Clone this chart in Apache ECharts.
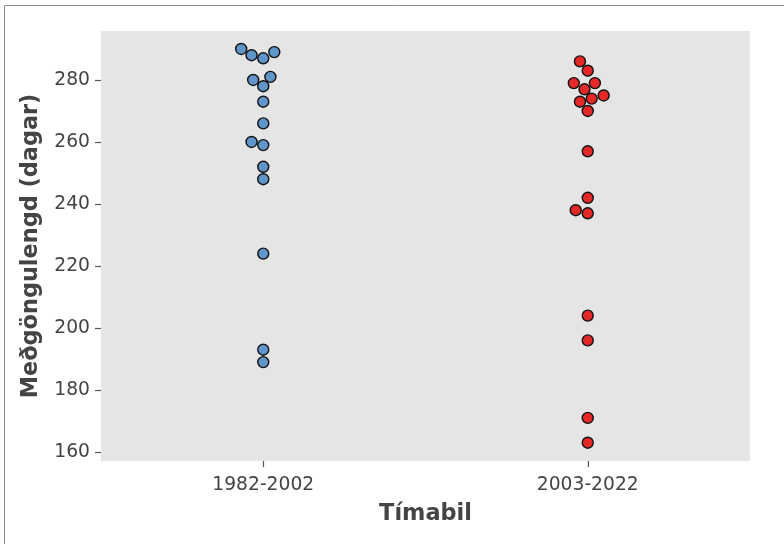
<!DOCTYPE html>
<html>
<head>
<meta charset="utf-8">
<script src="https://cdn.jsdelivr.net/npm/echarts@6/dist/echarts.min.js"></script>
<style>
  html, body { margin: 0; padding: 0; background: #ffffff; }
  #chart { width: 784px; height: 544px; }
</style>
</head>
<body>
<div id="chart"></div>
<script>
// Categories (periods)
const categories = ['1982-2002', '2003-2022'];

// Gestation length (days) per period
const values1982 = [290, 288, 287, 289, 280, 281, 278, 273, 266, 260, 259, 252, 248, 224, 193, 189];
// swarm offsets (in category units)
const offsets1982 = [-0.068, -0.036, 0, 0.034, -0.031, 0.022, 0, 0, 0, -0.036, 0, 0, 0, 0, 0, 0];

const values2003 = [286, 283, 279, 279, 277, 275, 273, 274, 270, 257, 242, 238, 237, 204, 196, 171, 163];
const offsets2003 = [-0.024, 0, -0.043, 0.022, -0.010, 0.049, -0.024, 0.012, 0, 0, 0, -0.037, 0, 0, 0, 0, 0];

// Y tick labels
const yTicks = [160, 180, 200, 220, 240, 260, 280];

const textColor = '#444444';
const font = 'DejaVu Sans';

function buildPoints(catIndex, vals, offs) {
  return vals.map((v, i) => [catIndex + offs[i], v]);
}

const chart = echarts.init(document.getElementById('chart'), null, { renderer: 'canvas' });

chart.setOption({
  animation: false,
  backgroundColor: '#ffffff',
  textStyle: { fontFamily: font },
  graphic: [{
    type: 'rect',
    shape: { x: 4.5, y: 5.5, width: 820, height: 580 },
    style: { fill: 'none', stroke: '#8a8a8a', lineWidth: 1 },
    silent: true,
    z: -10
  }],
  grid: {
    left: 101, top: 31, right: 34, bottom: 83,
    show: true, backgroundColor: '#e5e5e5', borderWidth: 0
  },
  xAxis: [{
    type: 'category',
    data: categories,
    boundaryGap: true,
    name: 'Tímabil',
    nameLocation: 'middle',
    nameGap: 42,
    nameTextStyle: { fontFamily: font, fontSize: 22.4, fontWeight: 'bold', color: textColor },
    axisLine: { show: false, onZero: false },
    axisTick: { show: true, alignWithLabel: true, length: 6, lineStyle: { color: '#555555', width: 1.2 } },
    axisLabel: { fontFamily: font, fontSize: 18.7, color: textColor, margin: 15 },
    splitLine: { show: false }
  }, {
    type: 'value',
    min: -0.5,
    max: 1.5,
    show: false,
    axisLine: { onZero: false },
    splitLine: { show: false }
  }],
  yAxis: {
    type: 'value',
    min: 157.1,
    max: 295.8,
    name: 'Meðgöngulengd (dagar)',
    nameLocation: 'middle',
    nameGap: 59,
    nameTextStyle: { fontFamily: font, fontSize: 22.4, fontWeight: 'bold', color: textColor },
    axisLine: { show: false, onZero: false },
    axisTick: { show: true, length: 6, customValues: yTicks, lineStyle: { color: '#555555', width: 1.2 } },
    axisLabel: { fontFamily: font, fontSize: 18.7, color: textColor, margin: 11, padding: [4, 0, 0, 0], customValues: yTicks },
    splitLine: { show: false }
  },
  series: [{
    name: categories[0],
    type: 'scatter',
    xAxisIndex: 1,
    data: buildPoints(0, values1982, offsets1982),
    symbol: 'circle',
    symbolSize: 11,
    itemStyle: { color: '#5f95c8', borderColor: '#111111', borderWidth: 1.4, opacity: 1 }
  }, {
    name: categories[1],
    type: 'scatter',
    xAxisIndex: 1,
    data: buildPoints(1, values2003, offsets2003),
    symbol: 'circle',
    symbolSize: 11,
    itemStyle: { color: '#e42828', borderColor: '#111111', borderWidth: 1.4, opacity: 1 }
  }]
});
</script>
</body>
</html>
